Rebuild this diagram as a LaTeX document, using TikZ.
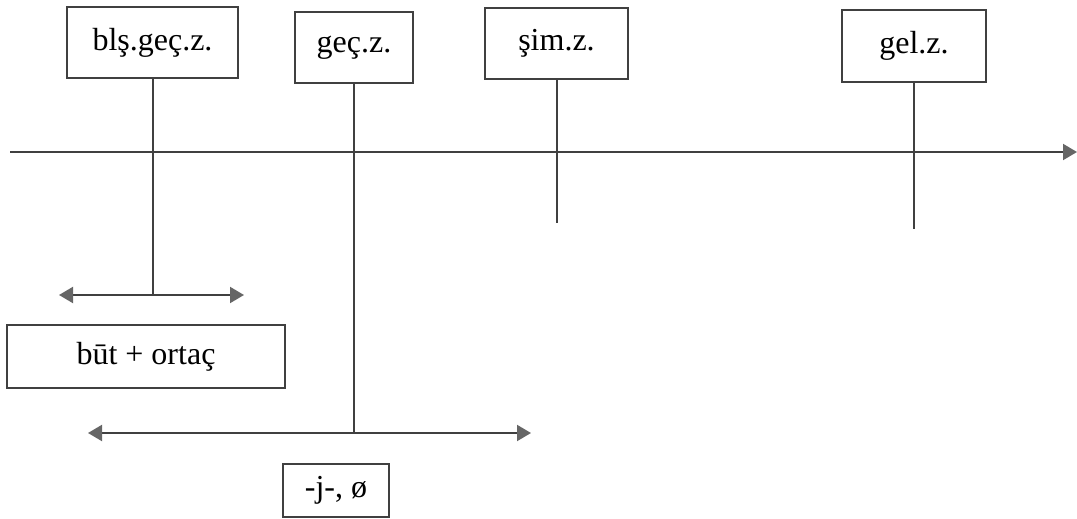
\documentclass[tikz,border=0pt]{standalone}
\usepackage{fontspec}
\setmainfont{Liberation Serif}
\usetikzlibrary{arrows.meta}
\begin{document}
\begin{tikzpicture}[
                x=0.5pt,y=-0.5pt,
                tzLine/.style={draw=black!75,line width=1pt},
                tzArrow/.style={tzLine,-{Triangle[length=7pt,width=8pt,color=black!60]}},
                tzBoth/.style={tzLine,{Triangle[length=7pt,width=8pt,color=black!60]}-{Triangle[length=7pt,width=8pt,color=black!60]}},
                tzBox/.style={draw=black!75,line width=0.8pt,inner sep=0pt},
                every node/.style={font=\fontsize{16}{19}\selectfont}]
                \useasboundingbox (0,0) rectangle (1077,519);

                % Time axis.
                \coordinate (axL) at (10,152);
                \coordinate (axR) at (1077,152);
                \draw[tzArrow] (axL)--(axR);

                % Tense boxes above the axis.
                \node[tzBox,minimum width=85.5pt,minimum height=35.5pt] (bls) at (152.5,42.5) {blş.geç.z.};
                \node[tzBox,minimum width=59pt,minimum height=35.5pt] (gec) at (354,47.5) {geç.z.};
                \node[tzBox,minimum width=71.5pt,minimum height=35.5pt] (sim) at (556.5,43.5) {şim.z.};
                \node[tzBox,minimum width=72pt,minimum height=36pt] (gel) at (914,46) {gel.z.};

                % Double arrows under the past tenses.
                \coordinate (rAl) at (59,295);
                \coordinate (rAr) at (244,295);
                \coordinate (rBl) at (88,433);
                \coordinate (rBr) at (531,433);
                \draw[tzBoth] (rAl)--(rAr);
                \draw[tzBoth] (rBl)--(rBr);

                % Drop lines from the boxes.
                \draw[tzLine] (bls.south)--(bls.south |- rAl);
                \draw[tzLine] (gec.south)--(gec.south |- rBl);
                \coordinate (simE) at (556.5,223);
                \coordinate (gelE) at (914,229);
                \draw[tzLine] (sim.south)--(simE);
                \draw[tzLine] (gel.south)--(gelE);

                % Form boxes.
                \node[tzBox,minimum width=139pt,minimum height=31.5pt] (but) at (146,356.5) {būt + ortaç};
                \node[tzBox,minimum width=53pt,minimum height=26.5pt] (jfm) at (336,490.5) {-j-, ø};

            \end{tikzpicture}
\end{document}
